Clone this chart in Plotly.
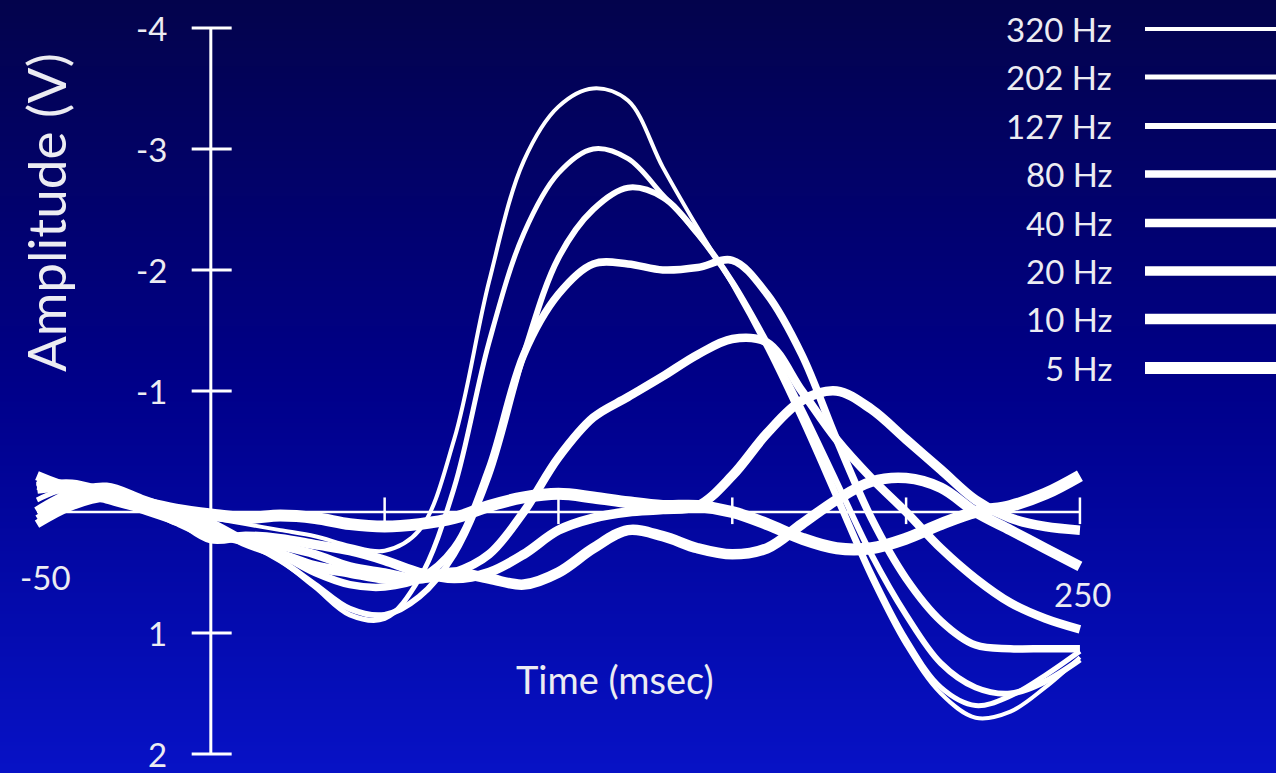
import plotly.graph_objects as go

# ---------------- data ----------------
time_ms = [-50, -40, -30, -20, -10, 0, 10, 20, 30, 40, 50, 60, 70, 80, 90, 100,
           110, 120, 130, 140, 150, 160, 170, 180, 190, 200, 210, 220, 230, 240, 250]

hz320 = [-0.2, -0.15, -0.12, -0.08, 0.0, 0.05, 0.1, 0.15, 0.2, 0.28, 0.32, 0.15, -0.6, -1.9, -2.9, -3.35,
         -3.5, -3.4, -2.85, -2.35, -1.88, -1.35, -0.75, -0.1, 0.55, 1.1, 1.5, 1.7, 1.65, 1.45, 1.2]
hz202 = [-0.1, -0.2, -0.15, -0.05, 0.05, 0.12, 0.25, 0.4, 0.62, 0.85, 0.88, 0.55, -0.2, -1.4, -2.3, -2.8,
         -3.0, -2.92, -2.62, -2.3, -1.9, -1.38, -0.8, -0.15, 0.5, 1.05, 1.45, 1.6, 1.52, 1.35, 1.15]
hz127 = [0.05, -0.1, -0.15, -0.05, 0.05, 0.15, 0.25, 0.4, 0.6, 0.8, 0.85, 0.7, 0.35, -0.3, -1.3, -2.1,
         -2.5, -2.68, -2.6, -2.3, -1.9, -1.4, -0.85, -0.25, 0.35, 0.85, 1.25, 1.45, 1.5, 1.4, 1.22]
hz80 = [-0.25, -0.18, -0.1, -0.02, 0.08, 0.18, 0.25, 0.35, 0.5, 0.6, 0.62, 0.55, 0.3, -0.35, -1.3, -1.8,
        -2.05, -2.05, -2.0, -2.02, -2.08, -1.8, -1.3, -0.6, 0.05, 0.55, 0.9, 1.1, 1.13, 1.13, 1.13]
hz40 = [0.1, -0.05, -0.12, -0.05, 0.08, 0.2, 0.22, 0.28, 0.35, 0.45, 0.5, 0.55, 0.5, 0.35, 0.0, -0.45,
        -0.78, -0.95, -1.12, -1.3, -1.43, -1.4, -1.0, -0.6, -0.28, 0.0, 0.3, 0.55, 0.75, 0.88, 0.97]
hz20 = [-0.3, -0.2, -0.18, -0.08, 0.05, 0.22, 0.2, 0.22, 0.27, 0.32, 0.4, 0.5, 0.55, 0.5, 0.35, 0.15,
        0.05, 0.0, -0.02, -0.05, -0.3, -0.65, -0.92, -1.0, -0.85, -0.6, -0.35, -0.1, 0.05, 0.12, 0.15]
hz10 = [0.0, -0.15, -0.2, -0.1, 0.0, 0.1, 0.25, 0.35, 0.45, 0.5, 0.55, 0.55, 0.5, 0.55, 0.6, 0.5,
        0.3, 0.15, 0.2, 0.3, 0.35, 0.3, 0.1, -0.1, -0.25, -0.28, -0.2, 0.0, 0.15, 0.3, 0.45]
hz5 = [-0.2, -0.22, -0.15, -0.08, -0.02, 0.02, 0.05, 0.03, 0.05, 0.1, 0.12, 0.1, 0.05, -0.05, -0.12, -0.15,
       -0.12, -0.08, -0.05, -0.05, 0.0, 0.1, 0.22, 0.3, 0.3, 0.22, 0.1, 0.0, -0.05, -0.15, -0.3]

series_names = ["320 Hz", "202 Hz", "127 Hz", "80 Hz", "40 Hz", "20 Hz", "10 Hz", "5 Hz"]
series_values = [hz320, hz202, hz127, hz80, hz40, hz20, hz10, hz5]
series_widths = [4, 5, 6, 7.5, 8.5, 9.5, 10.5, 12]

y_ticks = [-4, -3, -2, -1, 1, 2]
y_tick_labels = ["-4", "-3", "-2", "-1", "1", "2"]
x_ticks = [50, 100, 150, 200, 250]

# ---------------- style ----------------
WHITE = "#ffffff"
TEXT = "#ececf2"
FONT = "Lato"
X_RANGE = [-60.64, 306.4]
Y_RANGE = [2.157, -4.231]

fig = go.Figure()

# background gradient
fig.add_trace(go.Heatmap(
    x=[X_RANGE[0], X_RANGE[1]],
    y=[Y_RANGE[0], -1.0, Y_RANGE[1]],
    z=[[0, 0], [0.5, 0.5], [1, 1]],
    colorscale=[[0, "#0712c6"], [0.5, "#00008a"], [1, "#03034c"]],
    zsmooth="best", showscale=False, hoverinfo="skip",
))

# curves (thick first)
for name, vals, w in reversed(list(zip(series_names, series_values, series_widths))):
    fig.add_trace(go.Scatter(
        x=time_ms, y=vals, mode="lines", name=name,
        line=dict(color=WHITE, width=w, shape="spline", smoothing=1.0),
        showlegend=False, hoverinfo="skip",
    ))

shapes = []
# y axis at t=0
shapes.append(dict(type="line", xref="x", yref="y", x0=0, x1=0, y0=-4, y1=2,
                   line=dict(color=WHITE, width=3)))
for v in y_ticks:
    shapes.append(dict(type="line", xref="x", yref="y", x0=-5.5, x1=6, y0=v, y1=v,
                       line=dict(color=WHITE, width=3)))
# x axis at V=0
shapes.append(dict(type="line", xref="x", yref="y", x0=-50, x1=250, y0=0, y1=0,
                   line=dict(color=WHITE, width=2.5)))
for t in x_ticks:
    shapes.append(dict(type="line", xref="x", yref="y", x0=t, x1=t, y0=-0.12, y1=0.1,
                       line=dict(color=WHITE, width=2.5)))

annotations = []
for v, lab in zip(y_ticks, y_tick_labels):
    annotations.append(dict(x=-12, y=v, xref="x", yref="y", text=lab, showarrow=False,
                            xanchor="right", yanchor="middle",
                            font=dict(family=FONT, size=33, color=TEXT)))
annotations.append(dict(x=-47.5, y=0.54, xref="x", yref="y", text="-50", showarrow=False,
                        xanchor="center", yanchor="middle", font=dict(family=FONT, size=33, color=TEXT)))
annotations.append(dict(x=250.8, y=0.68, xref="x", yref="y", text="250", showarrow=False,
                        xanchor="center", yanchor="middle", font=dict(family=FONT, size=33, color=TEXT)))
annotations.append(dict(x=116.2, y=1.38, xref="x", yref="y", text="Time (msec)", showarrow=False,
                        xanchor="center", yanchor="middle", font=dict(family=FONT, size=38, color=TEXT)))
annotations.append(dict(x=45 / 1276, y=1 - 213 / 773, xref="paper", yref="paper", text="Amplitude (V)",
                        showarrow=False, textangle=-90, xanchor="center", yanchor="middle",
                        font=dict(family=FONT, size=53, color=TEXT)))

# legend (labels left, line samples right)
legend_y_px = [29, 77, 126, 174, 223, 271, 319, 368]
for name, w, ypx in zip(series_names, series_widths, legend_y_px):
    yp = 1 - ypx / 773
    shapes.append(dict(type="line", xref="paper", yref="paper", x0=1145 / 1276, x1=1.0, y0=yp, y1=yp,
                       line=dict(color=WHITE, width=w)))
    annotations.append(dict(x=1114 / 1276, y=yp, xref="paper", yref="paper", text=name, showarrow=False,
                            xanchor="right", yanchor="middle", font=dict(family=FONT, size=33, color=TEXT)))

fig.update_layout(
    width=1276, height=773,
    margin=dict(l=0, r=0, t=0, b=0),
    paper_bgcolor="#000080", plot_bgcolor="#000080",
    xaxis=dict(range=X_RANGE, visible=False, fixedrange=True),
    yaxis=dict(range=Y_RANGE, visible=False, fixedrange=True),
    shapes=shapes, annotations=annotations, showlegend=False,
)

fig.write_html("out.html", config={"displayModeBar": False},
               post_script="document.body.style.margin='0';document.body.style.overflow='hidden';")
